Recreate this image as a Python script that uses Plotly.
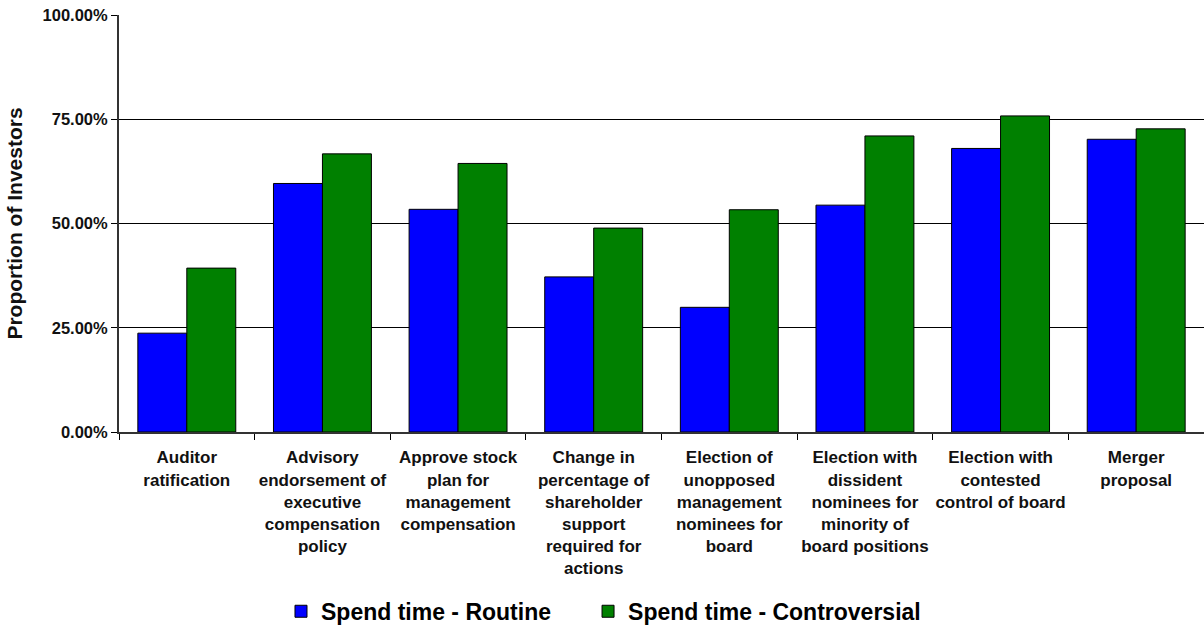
import plotly.graph_objects as go

categories = [
    "Auditor<br>ratification",
    "Advisory<br>endorsement of<br>executive<br>compensation<br>policy",
    "Approve stock<br>plan for<br>management<br>compensation",
    "Change in<br>percentage of<br>shareholder<br>support<br>required for<br>actions",
    "Election of<br>unopposed<br>management<br>nominees for<br>board",
    "Election with<br>dissident<br>nominees for<br>minority of<br>board positions",
    "Election with<br>contested<br>control of board",
    "Merger<br>proposal",
]
routine = [23.7, 59.6, 53.4, 37.2, 29.9, 54.4, 68.0, 70.2]
controversial = [39.3, 66.7, 64.4, 48.9, 53.3, 71.0, 75.8, 72.7]
series_names = ["Spend time - Routine", "Spend time - Controversial"]

FONT = "Arial, Liberation Sans, sans-serif"
LEGEND_FONT = dict(family=FONT, size=23, color="#000000", weight="bold")

fig = go.Figure()
fig.add_trace(go.Bar(
    x=categories, y=routine, name=series_names[0], legend="legend",
    marker=dict(color="#0000FF", line=dict(color="#000000", width=1)),
))
fig.add_trace(go.Bar(
    x=categories, y=controversial, name=series_names[1], legend="legend2",
    marker=dict(color="#008000", line=dict(color="#000000", width=1)),
))

fig.update_layout(
    width=1204, height=639,
    margin=dict(l=119, r=0, t=15, b=207),
    paper_bgcolor="white", plot_bgcolor="white",
    barmode="group", bargap=0.278, bargroupgap=0,
    font=dict(family=FONT, color="#000000"),
    showlegend=True,
    legend=dict(orientation="h", x=0.1493, xanchor="left", y=-0.43, yanchor="middle",
                font=LEGEND_FONT, itemwidth=30),
    legend2=dict(orientation="h", x=0.4323, xanchor="left", y=-0.43, yanchor="middle",
                 font=LEGEND_FONT, itemwidth=30),
)

fig.update_xaxes(
    showline=True, linecolor="#333333", linewidth=2,
    ticks="outside", tickson="boundaries", ticklen=6, tickcolor="#000000",
    tickfont=dict(family=FONT, size=17, color="#111111", weight="bold"),
    tickangle=0, ticklabelstandoff=9,
    showgrid=False,
)
fig.update_yaxes(
    range=[0, 100], dtick=25, tickformat=".2f", ticksuffix="%",
    showline=True, linecolor="#333333", linewidth=2,
    ticks="outside", ticklen=6, tickcolor="#000000",
    showgrid=True, gridcolor="#000000", gridwidth=1,
    tickfont=dict(family=FONT, size=16.5, color="#111111", weight="bold"),
    title=dict(text="Proportion of Investors",
               font=dict(family=FONT, size=21, color="#111111", weight="bold"),
               standoff=14),
    zeroline=False,
)

fig.write_html("out.html")
